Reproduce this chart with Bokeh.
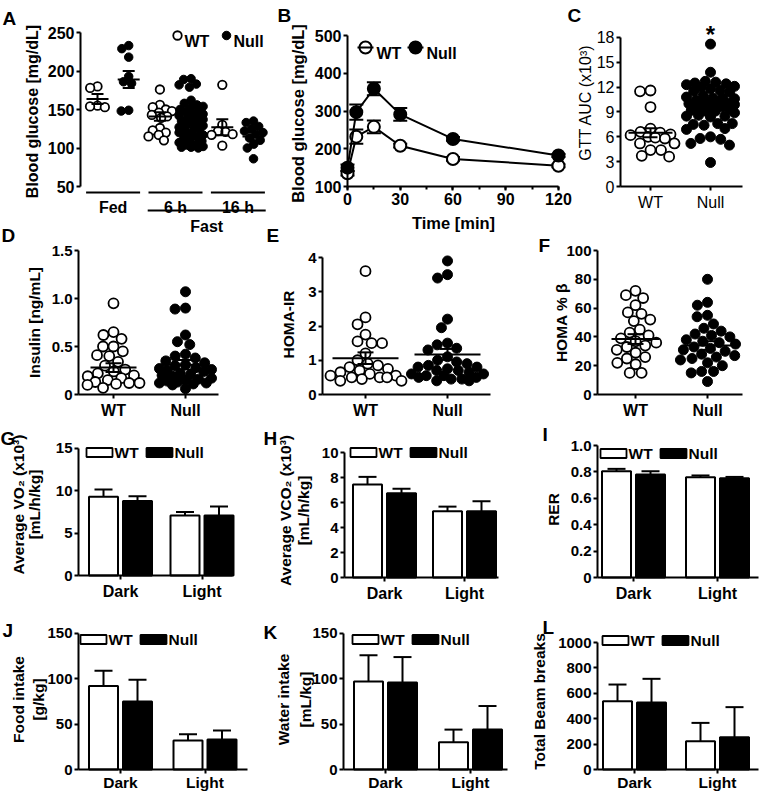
import math
from bokeh.plotting import figure
from bokeh.models import Range1d, LinearAxis, FixedTicker, SingleIntervalTicker
from bokeh.core.properties import value
from bokeh.embed import file_html
from bokeh.resources import INLINE

# ======================= data =======================
GENOTYPES = ["WT", "Null"]
PHASES = ["Dark", "Light"]

# A  Blood glucose [mg/dL]: fed, 6 h fast, 16 h fast (WT / Null)
A_conditions = ["Fed", "6 h", "16 h"]
A_fed_wt = [180, 178, 155, 154, 153]
A_fed_null = [233, 229, 218, 193, 186, 184, 149, 148]
A_6h_wt = [176, 156, 153, 150, 148, 146, 143, 141, 139, 126, 123, 120, 117, 115, 110]
A_6h_null = [190, 189, 183, 182, 179, 162, 158, 156, 154, 152, 150, 149, 147, 145,
             144, 142, 140, 139, 137, 135, 134, 132, 130, 129, 127, 125, 124, 122,
             120, 118, 117, 115, 113, 111, 109, 107, 105, 104, 102, 101, 101, 100]
A_16h_wt = [182, 130, 122, 121, 118, 117, 103]
A_16h_null = [135, 133, 128, 125, 122, 120, 118, 113, 110, 105, 100, 86]
A_mean = [163.5, 189, 141, 138, 127, 115]
A_sem = [6.5, 11, 5.5, 4, 10.5, 5]
A_yticks = [50, 100, 150, 200, 250]
A_ylabels = ["50", "100", "150", "200", "250"]

# B  Glucose tolerance test
B_time = [0, 5, 15, 30, 60, 120]
B_wt = [135, 232, 258, 208, 173, 155]
B_wt_sem = [6, 19, 17, 5, 5, 4]
B_null = [150, 297, 359, 291, 226, 182]
B_null_sem = [8, 20, 17, 17, 5, 4]
B_yticks = [100, 200, 300, 400, 500]
B_ylabels = ["100", "200", "300", "400", "500"]

# C  GTT AUC (x10^3)
C_wt = [11.6, 11.5, 9.6, 7.0, 6.6, 6.5, 6.3, 6.2, 6.0, 5.9, 5.8, 5.2, 5.2, 4.4, 4.4, 3.7, 3.6]
C_null = [17.2, 13.8, 12.7, 12.6, 12.5, 12.4, 12.3, 12.1, 12.0, 11.8, 11.6, 11.5, 11.4,
          11.0, 10.8, 10.7, 10.7, 10.6, 10.4, 10.2, 10.1, 10.1, 10.0, 9.9, 9.7, 9.6,
          9.6, 9.4, 9.2, 9.1, 9.1, 8.9, 8.6, 8.5, 8.5, 8.4, 7.6, 7.6, 7.5, 7.4, 7.0,
          6.9, 6.0, 5.8, 5.7, 5.2, 5.0, 2.9]
C_mean = [6.5, 9.8]
C_sem = [0.55, 0.35]
C_yticks = [0, 3, 6, 9, 12, 15, 18]
C_ylabels = ["0", "3", "6", "9", "12", "15", "18"]

# D  Insulin [ng/mL]
D_wt = [0.95, 0.65, 0.62, 0.58, 0.50, 0.50, 0.45, 0.41, 0.40, 0.34, 0.30, 0.26, 0.24,
        0.22, 0.20, 0.19, 0.17, 0.15, 0.13, 0.12, 0.12, 0.11, 0.10, 0.07]
D_null = [1.07, 0.90, 0.89, 0.62, 0.55, 0.52, 0.42, 0.40, 0.38, 0.35, 0.33, 0.31, 0.30,
          0.28, 0.27, 0.26, 0.25, 0.24, 0.22, 0.21, 0.20, 0.19, 0.17, 0.16, 0.15, 0.14,
          0.13, 0.12, 0.12, 0.11, 0.10, 0.06]
D_mean = [0.28, 0.31]
D_sem = [0.045, 0.05]
D_yticks = [0, 0.5, 1.0, 1.5]
D_ylabels = ["0", "0.5", "1.0", "1.5"]

# E  HOMA-IR
E_wt = [3.6, 2.25, 2.05, 1.75, 1.55, 1.5, 1.5, 1.2, 1.0, 0.9, 0.85, 0.8, 0.75, 0.7, 0.65,
        0.6, 0.55, 0.55, 0.5, 0.5, 0.5, 0.45, 0.4, 0.4]
E_null = [3.9, 3.5, 3.4, 2.2, 1.95, 1.5, 1.45, 1.35, 1.3, 1.1, 1.0, 0.95, 0.9, 0.85, 0.8,
          0.8, 0.75, 0.7, 0.7, 0.65, 0.6, 0.6, 0.55, 0.55, 0.5, 0.5, 0.45, 0.45, 0.4, 0.4]
E_mean = [1.06, 1.17]
E_sem = [0.17, 0.16]
E_yticks = [0, 1, 2, 3, 4]
E_ylabels = ["0", "1", "2", "3", "4"]

# F  HOMA % beta
F_wt = [72, 69, 67, 62, 57, 56, 52, 51, 45, 43, 41, 39, 37, 36, 34, 33, 31, 29, 26, 25,
        22, 21, 15, 15]
F_null = [80, 64, 62, 55, 54, 49, 46, 44, 42, 41, 40, 38, 37, 36, 35, 33, 32, 31, 30, 28,
          27, 26, 25, 24, 22, 20, 16, 16, 15, 9]
F_mean = [38.5, 34.0]
F_sem = [3.4, 3.0]
F_yticks = [0, 20, 40, 60, 80, 100]
F_ylabels = ["0", "20", "40", "60", "80", "100"]

# G-L  metabolic cages: [Dark, Light]
G_wt, G_wt_err, G_null, G_null_err = [9.3, 7.1], [0.85, 0.4], [8.8, 7.1], [0.55, 1.05]
H_wt, H_wt_err, H_null, H_null_err = [7.45, 5.3], [0.6, 0.37], [6.75, 5.3], [0.35, 0.8]
I_wt, I_wt_err, I_null, I_null_err = [0.805, 0.76], [0.018, 0.013], [0.78, 0.752], [0.025, 0.01]
J_wt, J_wt_err, J_null, J_null_err = [92, 32], [17, 7], [75, 33], [24, 10]
K_wt, K_wt_err, K_null, K_null_err = [97, 30], [29, 14], [96, 44], [28, 26]
L_wt, L_wt_err, L_null, L_null_err = [538, 223], [131, 144], [528, 254], [186, 237]
G_yticks, G_ylabels = [0, 5, 10, 15], ["0", "5", "10", "15"]
H_yticks, H_ylabels = [0, 2, 4, 6, 8, 10], ["0", "2", "4", "6", "8", "10"]
I_yticks, I_ylabels = [0, 0.2, 0.4, 0.6, 0.8, 1.0], ["0", "0.2", "0.4", "0.6", "0.8", "1.0"]
J_yticks, J_ylabels = [0, 50, 100, 150], ["0", "50", "100", "150"]
K_yticks, K_ylabels = [0, 50, 100, 150], ["0", "50", "100", "150"]
L_yticks, L_ylabels = [0, 200, 400, 600, 800, 1000], ["0", "200", "400", "600", "800", "1000"]

# ======================= layout / drawing =======================
REF_W, REF_H = 760, 792
W = 760
S = W / REF_W
H = int(round(REF_H * S))
FONT = "Liberation Sans"


def fs(px):
    return f"{px * S:.1f}px"


p = figure(width=W, height=H, x_range=Range1d(0, REF_W), y_range=Range1d(0, REF_H),
           x_axis_type=None, y_axis_type=None, toolbar_location=None,
           output_backend="svg", min_border=0, title=None)
p.outline_line_color = None
p.background_fill_color = "white"
p.border_fill_color = "white"

XR, YR = {}, {}


class Pan:
    """Linear map of one panel's data space onto the reference pixel grid."""
    def __init__(self, name, u0, X0, kx, v0, Y0, ky):
        self.n, self.u0, self.X0, self.kx, self.v0, self.Y0, self.ky = name, u0, X0, kx, v0, Y0, ky
        XR[name] = Range1d(u0 - X0 / kx, u0 + (REF_W - X0) / kx)
        YR[name] = Range1d(v0 - (REF_H - Y0) / ky, v0 + Y0 / ky)

    def u(self, X):
        return self.u0 + (X - self.X0) / self.kx

    def v(self, Y):
        return self.v0 + (self.Y0 - Y) / self.ky

    def Y(self, v):
        return self.Y0 - (v - self.v0) * self.ky

    def du(self, d):
        return d / self.kx

    def kw(self):
        return dict(x_range_name=self.n, y_range_name=self.n)


def R(Y):
    return REF_H - Y


def T(x, y, s, size, align="left", baseline="alphabetic", angle=0.0, bold=True, P=None):
    kw = P.kw() if P else {}
    p.text(x=[x], y=[y], text=[s], angle=angle, text_align=align, text_baseline=baseline,
           text_font=value(FONT), text_font_size=value(fs(size)),
           text_font_style="bold" if bold else "normal", text_color="black", **kw)


def style_axis(ax, size, bold=True):
    ax.axis_line_color = "black"
    ax.axis_line_width = 2
    ax.major_tick_line_color = "black"
    ax.major_tick_line_width = 2
    ax.major_tick_out = 4
    ax.major_tick_in = 0
    ax.minor_tick_line_color = None
    ax.major_label_standoff = 2
    ax.major_label_text_font = FONT
    ax.major_label_text_font_size = fs(size)
    ax.major_label_text_font_style = "bold" if bold else "normal"
    ax.major_label_text_color = "black"


def add_yaxis(P, X_axis, ticks, labels, size, bold=True):
    ax = LinearAxis(x_range_name=P.n, y_range_name=P.n, fixed_location=P.u(X_axis),
                    bounds=(ticks[0], ticks[-1] + 1e-9), ticker=FixedTicker(ticks=ticks),
                    major_label_overrides=dict(zip(ticks, labels)))
    style_axis(ax, size, bold)
    p.add_layout(ax, "left")


def add_xaxis(P, X_axis, X_end, labels, size, bold=True, standoff=3):
    ticks = [i + 1 for i in range(len(labels))]
    ax = LinearAxis(x_range_name=P.n, y_range_name=P.n, fixed_location=0,
                    bounds=(P.u(X_axis), P.u(X_end)), ticker=FixedTicker(ticks=ticks),
                    major_label_overrides=dict(zip(ticks, labels)))
    style_axis(ax, size, bold)
    ax.major_label_standoff = standoff
    p.add_layout(ax, "below")


def swarm(ys, d, maxw):
    idx = sorted(range(len(ys)), key=lambda i: ys[i])
    placed, out = [], [0.0] * len(ys)
    for i in idx:
        y = ys[i]
        cands = [0.0]
        for (px, py) in placed:
            dy = abs(py - y)
            if dy < d:
                w = math.sqrt(d * d - dy * dy)
                cands += [px - w, px + w]

        def clear(c):
            return all((c - px) ** 2 + (y - py) ** 2 >= d * d - 1e-6 for px, py in placed)
        good = [c for c in cands if abs(c) <= maxw + 1e-9 and clear(c)]
        if good:
            best = min(good, key=lambda c: (round(abs(c), 6), c))
        else:
            grid = [-maxw + k * maxw / 10 for k in range(21)]
            best = max(grid, key=lambda c: min((c - px) ** 2 + (y - py) ** 2 for px, py in placed))
        out[i] = best
        placed.append((best, y))
    return out


def swarm_group(P, uc, vals, d, maxw, size, filled):
    dxs = swarm([P.Y(v) for v in vals], d, maxw)
    xs = [uc + P.du(dx) for dx in dxs]
    p.scatter(x=xs, y=vals, marker="circle", size=size * S,
              fill_color="black" if filled else "white", line_color="black",
              line_width=1 if filled else 1.8, **P.kw())


def mean_sem(P, uc, m, e, hw, cw):
    x0 = [uc - P.du(hw), uc, uc - P.du(cw), uc - P.du(cw)]
    x1 = [uc + P.du(hw), uc, uc + P.du(cw), uc + P.du(cw)]
    y0 = [m, m - e, m - e, m + e]
    y1 = [m, m + e, m - e, m + e]
    p.segment(x0=x0, y0=y0, x1=x1, y1=y1, line_color="black", line_width=2, **P.kw())


def bar_panel(P, wt, wt_err, null, null_err):
    off, bw, cap = P.du(17), P.du(29), P.du(9)
    pos = [i + 1 for i in range(len(PHASES))]
    for sgn, vals, errs, fill in ((-1, wt, wt_err, "white"), (1, null, null_err, "black")):
        xs = [c + sgn * off for c in pos]
        tops = [v + e for v, e in zip(vals, errs)]
        p.segment(x0=xs, y0=vals, x1=xs, y1=tops, line_color="black", line_width=2, **P.kw())
        p.segment(x0=[x - cap for x in xs], y0=tops, x1=[x + cap for x in xs], y1=tops,
                  line_color="black", line_width=2, **P.kw())
        p.vbar(x=xs, top=vals, bottom=0, width=bw, fill_color=fill, line_color="black",
               line_width=2, **P.kw())


def bar_legend(X0, Yc, size):
    p.rect(x=[X0 + 13, X0 + 73], y=[R(Yc)] * 2, width=26, height=9,
           fill_color=["white", "black"], line_color="black", line_width=1.8)
    for X, s in ((X0 + 28, GENOTYPES[0]), (X0 + 88, GENOTYPES[1])):
        T(X, R(Yc), s, size, baseline="middle")


# ---- panel maps (reference pixel geometry) ----
pa = Pan("A", 1, 97, 31.2, 250, 32, 0.77)
pb = Pan("B", 0, 347, 1.758, 100, 186, 0.3775)
pc = Pan("C", 1, 650, 60, 0, 186, 8.278)
pd = Pan("D", 1, 113, 72, 0, 394, 96)
pe = Pan("E", 1, 365, 82, 0, 394, 34.25)
pf = Pan("F", 1, 635, 72, 0, 394, 1.44)
pg = Pan("G", 1, 120, 81.5, 0, 575, 8.467)
ph = Pan("H", 1, 384, 80, 0, 577, 12.5)
pi_ = Pan("I", 1, 633, 84, 0, 577, 132)
pj = Pan("J", 1, 120, 84.5, 0, 769, 0.9067)
pk = Pan("K", 1, 385, 85, 0, 769, 0.9067)
pl = Pan("L", 1, 634, 83, 0, 769, 0.127)

# ---- A ----
A_sets = [A_fed_wt, A_fed_null, A_6h_wt, A_6h_null, A_16h_wt, A_16h_null]
for i, vals in enumerate(A_sets):
    swarm_group(pa, i + 1, vals, 7.5, 12, 8.5, i % 2 == 1)
for i in range(len(A_sets)):
    mean_sem(pa, i + 1, A_mean[i], A_sem[i], 11, 6)
add_yaxis(pa, 80, A_yticks, A_ylabels, 16)
for j, name in enumerate(A_conditions):
    c = 2 * j + 1.5
    p.segment(x0=[c - pa.du(27)], y0=[pa.v(192)], x1=[c + pa.du(27)], y1=[pa.v(192)],
              line_color="black", line_width=2, **pa.kw())
    T(c, pa.v(207), name, 16, align="center", P=pa)
p.segment(x0=[4.5 - pa.du(59)], y0=[pa.v(210)], x1=[4.5 + pa.du(59)], y1=[pa.v(210)],
          line_color="black", line_width=2, **pa.kw())
T(4.5, pa.v(226), "Fast", 16, align="center", P=pa)
T(32, R(111), "Blood glucose [mg/dL]", 16, align="center", baseline="middle", angle=math.pi / 2)
p.scatter(x=[177], y=[R(35)], size=8.5 * S, marker="circle", fill_color="white", line_color="black", line_width=1.8)
p.scatter(x=[226], y=[R(35)], size=8.5 * S, marker="circle", fill_color="black", line_color="black")
T(184, R(41), "WT", 16)
T(233, R(41), "Null", 16)

# ---- B ----
for vals, errs, fill in ((B_wt, B_wt_sem, "white"), (B_null, B_null_sem, "black")):
    p.line(x=B_time, y=vals, line_color="black", line_width=2, **pb.kw())
    lo = [v - e for v, e in zip(vals, errs)]
    hi = [v + e for v, e in zip(vals, errs)]
    cap = pb.du(7)
    p.segment(x0=B_time, y0=lo, x1=B_time, y1=hi, line_color="black", line_width=2, **pb.kw())
    p.segment(x0=[t - cap for t in B_time] * 2, y0=lo + hi, x1=[t + cap for t in B_time] * 2,
              y1=lo + hi, line_color="black", line_width=2, **pb.kw())
    p.scatter(x=B_time, y=vals, marker="circle", size=12 * S, fill_color=fill,
              line_color="black", line_width=2, **pb.kw())
add_yaxis(pb, 347, B_yticks, B_ylabels, 16)
bx = LinearAxis(x_range_name="B", y_range_name="B", fixed_location=100, bounds=(0, 120),
                ticker=SingleIntervalTicker(interval=30, num_minor_ticks=2))
style_axis(bx, 16)
bx.minor_tick_line_color = "black"
bx.minor_tick_line_width = 2
bx.minor_tick_out = 3
bx.minor_tick_in = 0
p.add_layout(bx, "below")
T(453, R(222), "Time [min]", 16.5, align="center")
T(297, R(113), "Blood glucose [mg/dL]", 16.5, align="center", baseline="middle", angle=math.pi / 2)
for cx, fill in ((365, "white"), (415, "black")):
    p.scatter(x=[cx], y=[R(47)], size=12 * S, marker="circle", fill_color=fill, line_color="black", line_width=2)
    p.segment(x0=[cx - 8], y0=[R(47)], x1=[cx + 8], y1=[R(47)], line_color="black", line_width=2)
T(376, R(53), "WT", 16)
T(426, R(53), "Null", 16)

# ---- C ----
for k, vals in enumerate((C_wt, C_null)):
    swarm_group(pc, k + 1, vals, 10.5, 24, 10, k == 1)
for k in range(2):
    mean_sem(pc, k + 1, C_mean[k], C_sem[k], 22, 7)
add_yaxis(pc, 620, C_yticks, C_ylabels, 16, bold=False)
add_xaxis(pc, 620, 742, GENOTYPES, 16, bold=False)
T(585, R(102), "GTT AUC (x10\u00b3)", 16, align="center", baseline="middle", angle=math.pi / 2, bold=False)
T(2, pc.v(34), "*", 24, align="center", P=pc)

# ---- D / E / F ----
for P, wt, nl, mean, sem, ticks, labels, Xa, Xe, hw, maxw in (
        (pd, D_wt, D_null, D_mean, D_sem, D_yticks, D_ylabels, 78, 218, 23, 26),
        (pe, E_wt, E_null, E_mean, E_sem, E_yticks, E_ylabels, 322, 490, 33, 36),
        (pf, F_wt, F_null, F_mean, F_sem, F_yticks, F_ylabels, 597, 742, 24, 28)):
    for k, vals in enumerate((wt, nl)):
        swarm_group(P, k + 1, vals, 10.5, maxw, 10, k == 1)
    for k in range(2):
        mean_sem(P, k + 1, mean[k], sem[k], hw, 8)
    add_yaxis(P, Xa, ticks, labels, 15)
    add_xaxis(P, Xa, Xe, GENOTYPES, 16)
T(34, R(322), "Insulin [ng/mL]", 15.5, align="center", baseline="middle", angle=math.pi / 2)
T(288, R(324), "HOMA-IR", 15.5, align="center", baseline="middle", angle=math.pi / 2)
T(561, R(322), "HOMA % \u03b2", 15.5, align="center", baseline="middle", angle=math.pi / 2)

# ---- G-L bars ----
for P, wt, we, nl, ne, ticks, labels, Xa, Xe, legX, legY, lab_size, so in (
        (pg, G_wt, G_wt_err, G_null, G_null_err, G_yticks, G_ylabels, 78, 232, 86, 452, 16, 3),
        (ph, H_wt, H_wt_err, H_null, H_null_err, H_yticks, H_ylabels, 344, 498, 350, 452, 16, 3),
        (pi_, I_wt, I_wt_err, I_null, I_null_err, I_yticks, I_ylabels, 597, 758, 600, 453, 16, 3),
        (pj, J_wt, J_wt_err, J_null, J_null_err, J_yticks, J_ylabels, 78, 247, 80, 639, 15.5, 0),
        (pk, K_wt, K_wt_err, K_null, K_null_err, K_yticks, K_ylabels, 343, 507, 352, 639, 15.5, 0),
        (pl, L_wt, L_wt_err, L_null, L_null_err, L_yticks, L_ylabels, 597, 758, 602, 640, 15.5, 0)):
    bar_panel(P, wt, we, nl, ne)
    add_yaxis(P, Xa, ticks, labels, 15)
    add_xaxis(P, Xa, Xe, PHASES, lab_size, standoff=so)
    bar_legend(legX, legY, 15.5)

rot = math.pi / 2
T(18, R(504), "Average VO\u2082 (x10\u00b3)", 15.5, align="center", baseline="middle", angle=rot)
T(34, R(504), "[mL/h/kg]", 15.5, align="center", baseline="middle", angle=rot)
T(285, R(510), "Average VCO\u2082 (x10\u00b3)", 15.5, align="center", baseline="middle", angle=rot)
T(303, R(510), "[mL/h/kg]", 15.5, align="center", baseline="middle", angle=rot)
T(553, R(509), "RER", 15.5, align="center", baseline="middle", angle=rot)
T(18, R(699), "Food intake", 15.5, align="center", baseline="middle", angle=rot)
T(38, R(699), "[g/kg]", 15.5, align="center", baseline="middle", angle=rot)
T(283, R(699), "Water intake", 15.5, align="center", baseline="middle", angle=rot)
T(305, R(699), "[mL/kg]", 15.5, align="center", baseline="middle", angle=rot)
T(539, R(701), "Total Beam breaks", 15.5, align="center", baseline="middle", angle=rot)

# ---- panel letters ----
for s, X, Yb in (("A", 2, 18), ("B", 277, 15), ("C", 567, 15),
                 ("D", 1, 235), ("E", 266, 235), ("F", 538, 245),
                 ("G", 0, 438), ("H", 263, 438), ("I", 542, 434),
                 ("J", 2, 630), ("K", 263, 632), ("L", 542, 627)):
    T(X, R(Yb), s, 19)

p.extra_x_ranges = XR
p.extra_y_ranges = YR

open("out.html", "w").write(file_html(p, INLINE))
